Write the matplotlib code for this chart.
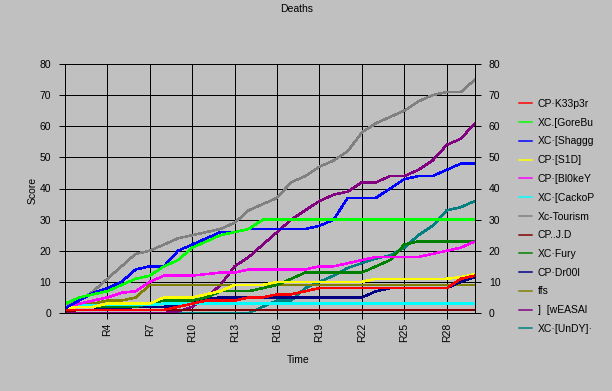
import matplotlib
matplotlib.use("Agg")
import matplotlib.pyplot as plt

plt.rcParams['font.family'] = ['Liberation Sans', 'DejaVu Sans']

rounds = list(range(1, 31))
tick_rounds = [4, 7, 10, 13, 16, 19, 22, 25, 28]
tick_labels = ['R%d' % r for r in tick_rounds]

k33p3r = [1, 1, 1, 1, 1, 1, 1, 1, 2, 3, 4, 4, 4, 5, 5, 6, 6, 7, 8, 8, 8, 8, 8, 8, 8, 8, 8, 8, 11, 12]
gorebu = [3, 5, 6, 7, 9, 11, 12, 15, 17, 21, 23, 25, 26, 27, 30, 30, 30, 30, 30, 30, 30, 30, 30, 30, 30, 30, 30, 30, 30, 30]
shaggg = [1.5, 4, 6.5, 8, 10, 14, 15, 15, 20, 22, 24, 26, 26, 27, 27, 27, 27, 27, 28, 30, 37, 37, 37, 40, 43, 44, 44, 46, 48, 48]
s1d = [1.5, 2, 2, 3, 3, 3, 3, 5, 5, 5, 6, 7, 9, 9, 9, 10, 10, 10, 10, 10, 10, 10, 11, 11, 11, 11, 11, 11, 11.5, 12.5]
bl0key = [1, 3, 4, 5, 6.5, 7, 10, 12, 12, 12, 12.5, 13, 13, 14, 14, 14, 14, 14, 15, 15, 16, 17, 18, 18, 18, 18, 19, 20, 21, 23]
cackop = [2, 2.5, 2.5, 2.5, 2.5, 2.5, 2.5, 3, 3, 3, 3, 3, 3, 3, 3, 3, 3, 3, 3, 3, 3, 3, 3, 3, 3, 3, 3, 3, 3, 3]
tourism = [2, 4, 7, 11, 15, 19, 20, 22, 24, 25, 26, 27, 29, 33, 35, 37, 42, 44, 47, 49, 52, 58, 61, 63, 65, 68, 70, 71, 71, 75]
jd = [0.5, 1, 1, 1, 1, 1, 1, 1, 1, 1, 1, 1, 1, 1, 1, 1, 1, 1, 1, 1, 1, 1, 1, 1, 1, 1, 1, 1, 1, 1]
fury = [2, 2, 2, 2, 2, 2, 3, 4, 4, 4, 5, 7, 7, 7, 8, 9, 11, 13, 13, 13, 13, 13, 15, 17, 22, 23, 23, 23, 23, 23]
dr00l = [1, 1, 1, 1.5, 1.5, 2, 2, 2, 2.5, 3, 4.5, 5, 5, 5, 5, 5, 5, 5, 5, 5, 5, 5, 7, 8, 8, 8, 8, 8, 10, 11.5]
ffs = [2, 3, 3, 4, 4, 5, 9, 9, 9, 9, 9, 9, 9, 9, 9, 9, 9, 9, 9, 9, 9, 9, 9, 9, 9, 9, 9, 9, 9, 9]
weasal = [0, 0, 0, 0, 0, 0, 0, 0, 0.5, 2, 5, 9, 15, 18, 22, 26, 30, 33, 36, 38, 39, 42, 42, 44, 44, 46, 49, 54, 56, 61]
undy = [0, 0, 0, 0, 0, 0, 0, 0, 0, 0, 0, 0, 0, 0, 2, 4, 4, 8, 10, 12, 14.5, 16, 17.5, 18.5, 21, 25, 28, 33, 34, 36]

names = ['CP·K33p3r', 'XC.[GoreBu', 'XC·[Shaggg', 'CP·[S1D]', 'CP·[Bl0keY', 'XC·[CackoP',
         'Xc-Tourism', 'CP..J.D', 'XC·Fury', 'CP·Dr00l', 'ffs', ']  [wEASAl', 'XC·[UnDY]·']
series = [k33p3r, gorebu, shaggg, s1d, bl0key, cackop, tourism, jd, fury, dr00l, ffs, weasal, undy]
colors = ['#FF0000', '#00FF00', '#0000FF', '#FFFF00', '#FF00FF', '#00FFFF', '#808080',
          '#800000', '#008000', '#000080', '#808000', '#800080', '#008080']

bg = '#C0C0C0'
fs = 7.5
px = 0.72  # one pixel in points at 100 dpi
fig = plt.figure(figsize=(6.12, 3.91), dpi=100, facecolor=bg)
ax = fig.add_axes([65 / 612, 1 - 313 / 391, 410 / 612, 249 / 391])
ax.set_facecolor(bg)

# draw back to front so the first series ends up on top
for name, vals, c in reversed(list(zip(names, series, colors))):
    ax.plot(rounds, vals, color=c, lw=1.5 * px, label=name, antialiased=False, solid_joinstyle='miter')

ax.set_xlim(1, 30)
ax.set_ylim(0, 80)
ax.set_yticks(range(0, 81, 10))
ax.set_xticks(tick_rounds)
ax.set_xticklabels(tick_labels, rotation=90, fontsize=fs)
ax.grid(True, color='black', lw=px, antialiased=False)
ax.set_axisbelow(True)
for sp in ax.spines.values():
    sp.set_color('black')
    sp.set_linewidth(px)
    sp.set_antialiased(False)
ax.tick_params(axis='both', direction='out', length=4, width=px, labelsize=fs, pad=3, colors='black')
ax.tick_params(axis='y', pad=6)

ax2 = ax.twinx()
ax2.set_ylim(0, 80)
ax2.set_yticks(range(0, 81, 10))
ax2.tick_params(axis='y', direction='out', length=4, width=px, labelsize=fs, pad=6)
for sp in ax2.spines.values():
    sp.set_visible(False)

fig.text(297 / 612, 1 - 9 / 391, 'Deaths', ha='center', va='center', fontsize=fs)
fig.text(298 / 612, 1 - 360 / 391, 'Time', ha='center', va='center', fontsize=fs)
fig.text(33 / 612, 1 - 190 / 391, 'Score', ha='center', va='center', rotation=90, fontsize=fs)

handles, labels = ax.get_legend_handles_labels()
handles, labels = handles[::-1], labels[::-1]
fig.legend(handles, labels, loc='upper left', bbox_to_anchor=(519 / 612, 1 - 99 / 391),
           frameon=False, fontsize=fs, handlelength=1.2, handletextpad=0.6,
           labelspacing=0.84, borderpad=0, borderaxespad=0)

fig.savefig('out.png', dpi=100, facecolor=bg)
